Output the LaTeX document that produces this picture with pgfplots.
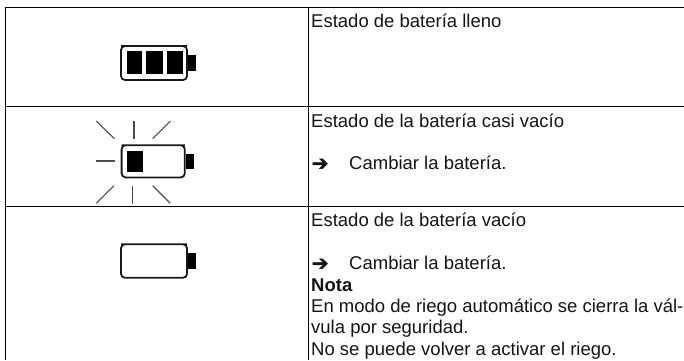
\documentclass[border=0pt]{standalone}
\usepackage{pgfplots}
\pgfplotsset{compat=1.18}
\usepackage{fontspec}
\setmainfont{Liberation Sans}
\newfontfamily\sym[FakeBold=2.5]{DejaVu Sans}
\tikzset{tx/.style={anchor=base west, inner sep=0pt, font=\fontsize{18.5}{20}\selectfont, text=black!92}}
\begin{document}
\begin{tikzpicture}[x=1pt,y=1pt]
\begin{axis}[
  scale only axis, width=684pt, height=360pt,
  xmin=0, xmax=684, ymin=0, ymax=360, y dir=reverse,
  hide axis, clip=false
]
\path[use as bounding box] (axis cs:0,0) rectangle (axis cs:684,360);
% table grid
\addplot[black, line width=1pt] coordinates {(5,7.5) (684,7.5)};
\addplot[black, line width=1pt] coordinates {(5,106.5) (684,106.5)};
\addplot[black, line width=1pt] coordinates {(5,206.5) (684,206.5)};
\addplot[black, line width=1pt] coordinates {(5.5,7) (5.5,360)};
\addplot[black, line width=1pt] coordinates {(308.5,7) (308.5,360)};
% battery 1
\addplot[black!90, line width=1.8pt, rounded corners=4pt] coordinates {(121,46) (187,46) (187,80) (121,80) (121,46) (187,46)};
\addplot[fill=black, draw=none] coordinates {(127,51) (142,51) (142,74) (127,74)} -- cycle;
\addplot[fill=black, draw=none] coordinates {(146,51) (162.5,51) (162.5,74) (146,74)} -- cycle;
\addplot[fill=black, draw=none] coordinates {(166.5,51) (183,51) (183,74) (166.5,74)} -- cycle;
\addplot[fill=black, draw=none] coordinates {(188,55) (196,55) (196,70.5) (188,70.5)} -- cycle;
% battery 2
\addplot[black!90, line width=1.8pt, rounded corners=4pt] coordinates {(121.6,145.2) (184.8,145.2) (184.8,177.4) (121.6,177.4) (121.6,145.2) (184.8,145.2)};
\addplot[fill=black, draw=none] coordinates {(127,150.7) (142.7,150.7) (142.7,172.3) (127,172.3)} -- cycle;
\addplot[fill=black, draw=none] coordinates {(185.7,154.3) (193.7,154.3) (193.7,169.3) (185.7,169.3)} -- cycle;
\addplot[black!70, line width=1.1pt] coordinates {(96.3,121) (114.3,138.7)};
\addplot[black!70, line width=1.1pt] coordinates {(134,121) (134,138.7)};
\addplot[black!70, line width=1.1pt] coordinates {(170.3,121) (152.7,138.7)};
\addplot[black!70, line width=1.1pt] coordinates {(96,161) (114.5,161)};
\addplot[black!70, line width=1.1pt] coordinates {(96.3,203.3) (114,185.7)};
\addplot[black!70, line width=1.1pt] coordinates {(132.3,186) (132.3,203.5)};
\addplot[black!70, line width=1.1pt] coordinates {(152.7,185.7) (170.3,203.3)};
% battery 3
\addplot[black!90, line width=1.8pt, rounded corners=4pt] coordinates {(121,244.2) (187,244.2) (187,277.8) (121,277.8) (121,244.2) (187,244.2)};
\addplot[fill=black, draw=none] coordinates {(188,253.3) (196,253.3) (196,269) (188,269)} -- cycle;
% text
\node[tx] at (axis cs:311,27.5) {Estado de batería lleno};
\node[tx] at (axis cs:311,127) {Estado de la batería casi vacío};
\node[tx] at (axis cs:311.5,170) {\sym\fontsize{20}{20}\selectfont ➔};
\node[tx] at (axis cs:349,169) {Cambiar la batería.};
\node[tx] at (axis cs:311,226.5) {Estado de la batería vacío};
\node[tx] at (axis cs:311.5,270) {\sym\fontsize{20}{20}\selectfont ➔};
\node[tx] at (axis cs:349,269) {Cambiar la batería.};
\node[tx] at (axis cs:311,291) {\bfseries Nota};
\node[tx] at (axis cs:311,312) {En modo de riego automático se cierra la vál-};
\node[tx] at (axis cs:311,333.5) {vula por seguridad.};
\node[tx] at (axis cs:311,355) {No se puede volver a activar el riego.};
\end{axis}
\end{tikzpicture}
\end{document}
